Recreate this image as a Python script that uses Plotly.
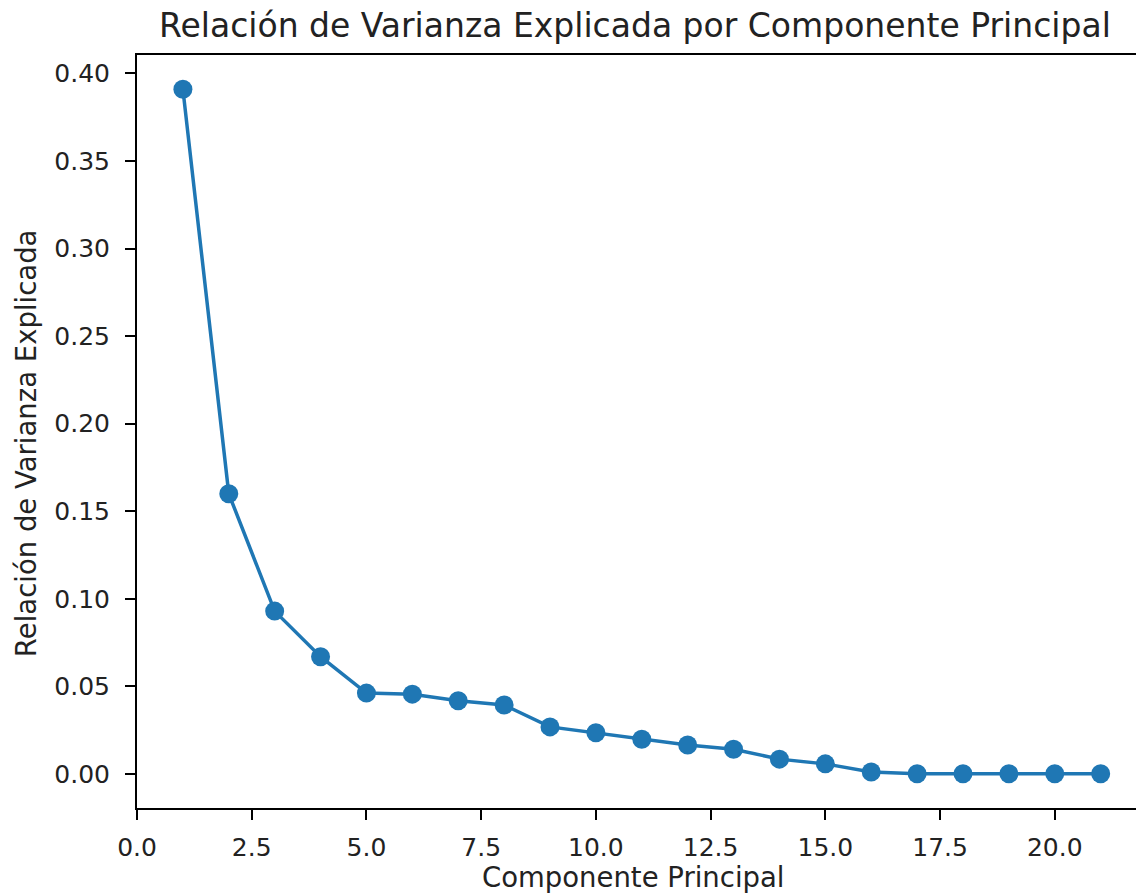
import plotly.graph_objects as go

# Explained variance ratio of each principal component
componentes = list(range(1, 22))
varianza_explicada = [
    0.391, 0.160, 0.093, 0.067, 0.0462, 0.0456, 0.0418, 0.0394, 0.0269, 0.0236,
    0.0198, 0.0166, 0.0141, 0.0085, 0.0058, 0.0012, 0.0002, 0.0001, 0.0001,
    0.0001, 0.0001,
]

x_ticks = [0.0, 2.5, 5.0, 7.5, 10.0, 12.5, 15.0, 17.5, 20.0]
y_ticks = [0.00, 0.05, 0.10, 0.15, 0.20, 0.25, 0.30, 0.35, 0.40]

titulo = "Relación de Varianza Explicada por Componente Principal"
etiqueta_x = "Componente Principal"
etiqueta_y = "Relación de Varianza Explicada"

AZUL = "#1f77b4"
FUENTE = "DejaVu Sans"
TEXTO = "#222"

fig = go.Figure()
fig.add_trace(go.Scatter(
    x=componentes,
    y=varianza_explicada,
    mode="lines+markers",
    line=dict(color=AZUL, width=3.5),
    marker=dict(color=AZUL, size=19),
    showlegend=False,
))

eje = dict(
    showgrid=False,
    zeroline=False,
    showline=True,
    linecolor="black",
    linewidth=2,
    ticks="outside",
    ticklen=10,
    tickwidth=2,
    tickcolor="black",
    tickfont=dict(family=FUENTE, size=25, color=TEXTO),
    automargin=False,
)

fig.update_xaxes(
    **eje,
    range=[0, 21.77],
    tickvals=x_ticks,
    ticktext=[f"{v:.1f}" for v in x_ticks],
    mirror=True,
    ticklabelstandoff=6,
)
fig.update_yaxes(
    **eje,
    range=[-0.0194, 0.4105],
    tickvals=y_ticks,
    ticktext=[f"{v:.2f}" for v in y_ticks],
    ticklabelstandoff=10,
)

fig.add_annotation(
    text=titulo, xref="paper", yref="paper", x=0.4985, y=1.0398,
    xanchor="center", yanchor="middle", showarrow=False,
    font=dict(family=FUENTE, size=33, color=TEXTO),
)
fig.add_annotation(
    text=etiqueta_x, xref="paper", yref="paper", x=0.4965, y=-0.091,
    xanchor="center", yanchor="middle", showarrow=False, borderpad=0,
    font=dict(family=FUENTE, size=27.5, color=TEXTO),
)
fig.add_annotation(
    text=etiqueta_y, xref="paper", yref="paper", x=-0.111, y=0.4847,
    xanchor="center", yanchor="middle", textangle=-90, showarrow=False,
    font=dict(family=FUENTE, size=27.5, color=TEXTO),
)

fig.update_layout(
    width=1136,
    height=894,
    margin=dict(l=137, r=0, t=55, b=86),
    plot_bgcolor="white",
    paper_bgcolor="white",
)

fig.write_html("out.html")
